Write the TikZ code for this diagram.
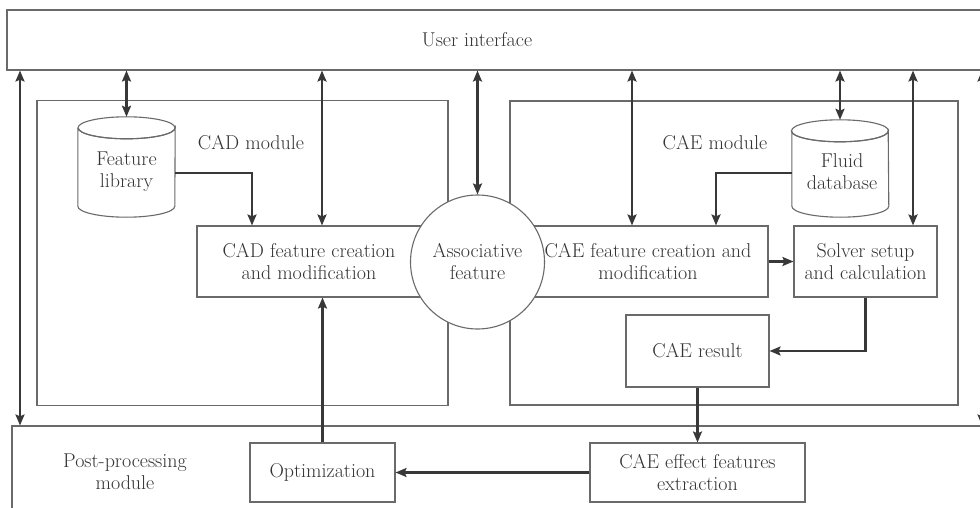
\documentclass[tikz,border=0pt]{standalone}
\usetikzlibrary{arrows.meta,calc}
\definecolor{boxc}{HTML}{6A6A6A}
\definecolor{arrc}{HTML}{383838}
\definecolor{txtc}{HTML}{333333}
\begin{document}
\begin{tikzpicture}[x=1pt,y=1pt,
  box/.style={draw=boxc, line width=1.1pt, fill=white, inner sep=0pt},
  arr/.style={draw=arrc, line width=2.3pt, -{Stealth[length=11pt,width=9pt,inset=2pt]}},
  darr/.style={draw=arrc, line width=2.3pt, {Stealth[length=11pt,width=9pt,inset=2pt]}-{Stealth[length=11pt,width=9pt,inset=2pt]}},
  txt/.style={font=\fontsize{20}{22}\selectfont, text=txtc, align=center, inner sep=0pt},
  cyl/.style={draw=none, inner sep=0pt}
]
\useasboundingbox (0,0) rectangle (980,-508);
\clip (0,0) rectangle (980,-508);
\fill[white] (0,0) rectangle (980,-508);

% big frames
\node[box, minimum width=988, minimum height=60] (ui) at (501,-40) {};
\node[txt] (uitxt) at (477,-40) {User interface};
\node[box, minimum width=983, minimum height=94] (post) at (503.5,-473) {};
\node[txt] (posttxt) at (125,-472) {Post-processing\\module};
\node[box, minimum width=411, minimum height=305] (cadmod) at (242.5,-253) {};
\node[box, minimum width=448, minimum height=304] (caemod) at (734,-253) {};
\node[txt] (cadmodtxt) at (251,-143) {CAD module};
\node[txt] (caemodtxt) at (715,-143) {CAE module};

% inner boxes
\node[box, minimum width=253, minimum height=71] (cad) at (323.5,-261.5) {};
\node[txt] (cadtxt) at (309,-261.5) {CAD feature creation\\and modification};
\node[box, minimum width=263, minimum height=71] (cae) at (636.5,-261.5) {};
\node[txt] (caetxt) at (648,-261.5) {CAE feature creation and\\modification};
\node[box, circle, minimum size=134] (assoc) at (477.5,-262) {};
\node[txt] (assoctxt) at (477.5,-261.5) {Associative\\feature};
\node[box, minimum width=143, minimum height=71, txt] (solver) at (865.5,-261.5) {Solver setup\\and calculation};
\node[box, minimum width=143, minimum height=72, txt] (result) at (697.5,-351) {CAE result};
\node[box, minimum width=215, minimum height=59, txt] (effect) at (697.5,-472.5) {CAE effect features\\extraction};
\node[box, minimum width=145, minimum height=59, txt] (opt) at (322.5,-472.5) {Optimization};

% cylinders
\node[cyl, minimum width=97, minimum height=100] (flib) at (126.5,-167) {};
\node[cyl, minimum width=96, minimum height=97] (fdb) at (840,-168.5) {};
\foreach \c in {flib,fdb}{
  \draw[draw=boxc, line width=1.1pt, fill=white]
    ($(\c.north west)+(0,-11)$) -- ($(\c.south west)+(0,11)$)
    arc[start angle=180, end angle=360, x radius=48.5, y radius=11]
    -- ($(\c.north east)+(0,-11)$)
    arc[start angle=0, end angle=-180, x radius=48.5, y radius=11];
  \draw[draw=boxc, line width=1.1pt] ($(\c.north)+(0,-11)$) ellipse[x radius=48.5, y radius=11];
}
\node[txt] (flibtxt) at (126.5,-172) {Feature\\library};
\node[txt] (fdbtxt) at (842,-172) {Fluid\\database};

% coordinates for vertical links
\coordinate (xl) at (20,0);
\coordinate (xr) at (982,0);
\coordinate (xcad) at (322,0);
\coordinate (xcae) at (632,0);
\coordinate (xsol) at (913,0);

% UI links
\draw[darr] (ui.south -| xl) -- (post.north -| xl);
\draw[darr] (ui.south -| xr) -- (post.north -| xr);
\draw[darr] (ui.south -| flib) -- (flib.north);
\draw[darr] (ui.south -| xcad) -- (cad.north -| xcad);
\draw[darr] (ui.south -| assoc) -- (assoc.north);
\draw[darr] (ui.south -| xcae) -- (cae.north -| xcae);
\draw[darr] (ui.south -| fdb) -- (fdb.north);
\draw[darr] (ui.south -| xsol) -- (solver.north -| xsol);

% flow links
\coordinate (fa) at (252,-173);
\coordinate (fb) at (716,-173);
\draw[arr] (flib.east |- fa) -- (fa) -- (cad.north -| fa);
\draw[arr] (fdb.west |- fb) -- (fb) -- (cae.north -| fb);
\draw[arr] (cae.east) -- (solver.west);
\draw[arr] (solver.south) |- (result.east);
\draw[arr] (result.south) -- (effect.north);
\draw[arr] (effect.west) -- (opt.east);
\draw[arr] (opt.north) -- (cad.south -| opt);
\end{tikzpicture}
\end{document}
